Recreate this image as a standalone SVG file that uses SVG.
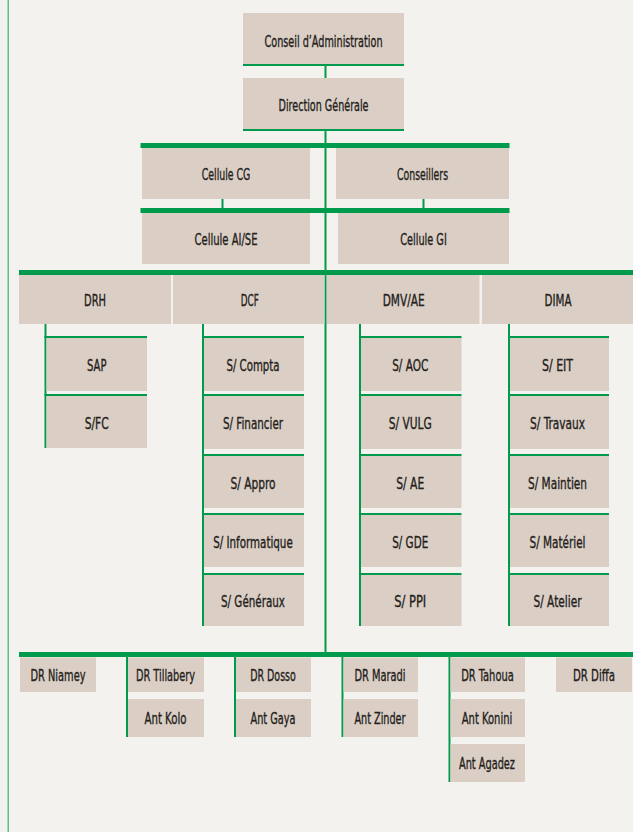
<svg xmlns="http://www.w3.org/2000/svg" width="633" height="832" viewBox="0 0 633 832">
<style>
.b{fill:#dbcfc5}
.g{fill:#009a4c}
.t{font-family:"Liberation Sans Narrow","DejaVu Sans Condensed","Liberation Sans",sans-serif;font-size:16px;fill:#241e1c;stroke:#241e1c;stroke-width:0.35px;text-anchor:middle}
</style>
<rect width="633" height="832" fill="#f3f2ee"/>
<rect x="7.5" y="0" width="1.5" height="832" fill="#5dbd8b"/>
<g id="connectors">
<rect class="g" x="243" y="64" width="161" height="2"/>
<rect class="g" x="324.5" y="66" width="2" height="12"/>
<rect class="g" x="243" y="129" width="161" height="2"/>
<rect class="g" x="324.5" y="131" width="2" height="521"/>
<rect class="g" x="140.5" y="143" width="369" height="5"/>
<rect class="g" x="221.5" y="199" width="2" height="9"/>
<rect class="g" x="422.5" y="199" width="2" height="9"/>
<rect class="g" x="140.5" y="208" width="369" height="5"/>
<rect class="g" x="19" y="270" width="614" height="5"/>
<rect class="g" x="44.5" y="324" width="2" height="124"/>
<rect class="g" x="44.5" y="336" width="102.5" height="2"/>
<rect class="g" x="44.5" y="394" width="102.5" height="2"/>
<rect class="g" x="202" y="324" width="2" height="302"/>
<rect class="g" x="202" y="336" width="102" height="2"/>
<rect class="g" x="202" y="394" width="102" height="2"/>
<rect class="g" x="202" y="454" width="102" height="2"/>
<rect class="g" x="202" y="513" width="102" height="2"/>
<rect class="g" x="202" y="573" width="102" height="2"/>
<rect class="g" x="359" y="324" width="2" height="302"/>
<rect class="g" x="359" y="336" width="102.5" height="2"/>
<rect class="g" x="359" y="394" width="102.5" height="2"/>
<rect class="g" x="359" y="454" width="102.5" height="2"/>
<rect class="g" x="359" y="513" width="102.5" height="2"/>
<rect class="g" x="359" y="573" width="102.5" height="2"/>
<rect class="g" x="508" y="324" width="2" height="302"/>
<rect class="g" x="508" y="336" width="101" height="2"/>
<rect class="g" x="508" y="394" width="101" height="2"/>
<rect class="g" x="508" y="454" width="101" height="2"/>
<rect class="g" x="508" y="513" width="101" height="2"/>
<rect class="g" x="508" y="573" width="101" height="2"/>
<rect class="g" x="19" y="652" width="614" height="5"/>
<rect class="g" x="126" y="657" width="2" height="80"/>
<rect class="g" x="234" y="657" width="2" height="80"/>
<rect class="g" x="341.5" y="657" width="2" height="80"/>
<rect class="g" x="448.5" y="657" width="2" height="125"/>
</g>
<g id="conseil"><rect class="b" x="243" y="13" width="161" height="51"/><text class="t" x="323.5" y="46.5" textLength="118" lengthAdjust="spacingAndGlyphs">Conseil d’Administration</text></g>
<g id="dg"><rect class="b" x="243" y="78" width="161" height="51"/><text class="t" x="323.5" y="111" textLength="90" lengthAdjust="spacingAndGlyphs">Direction Générale</text></g>
<g id="cellule-cg"><rect class="b" x="142" y="148" width="168" height="51"/><text class="t" x="226" y="179.5" textLength="48.5" lengthAdjust="spacingAndGlyphs">Cellule CG</text></g>
<g id="conseillers"><rect class="b" x="336" y="148" width="173" height="51"/><text class="t" x="422.5" y="179.5" textLength="51" lengthAdjust="spacingAndGlyphs">Conseillers</text></g>
<g id="cellule-aise"><rect class="b" x="142" y="213" width="168" height="51"/><text class="t" x="226" y="244.5" textLength="63" lengthAdjust="spacingAndGlyphs">Cellule AI/SE</text></g>
<g id="cellule-gi"><rect class="b" x="338" y="213" width="171" height="51"/><text class="t" x="423.5" y="244.5" textLength="46.5" lengthAdjust="spacingAndGlyphs">Cellule GI</text></g>
<g id="drh"><rect class="b" x="19" y="275" width="152" height="49"/><text class="t" x="95" y="305.5" textLength="22" lengthAdjust="spacingAndGlyphs">DRH</text></g>
<g id="dcf"><rect class="b" x="173" y="275" width="151.5" height="49"/><text class="t" x="249.7" y="305.5" textLength="18" lengthAdjust="spacingAndGlyphs">DCF</text></g>
<g id="dmvae"><rect class="b" x="327" y="275" width="152.5" height="49"/><text class="t" x="403.7" y="305.5" textLength="42" lengthAdjust="spacingAndGlyphs">DMV/AE</text></g>
<g id="dima"><rect class="b" x="482" y="275" width="151" height="49"/><text class="t" x="558" y="305.5" textLength="27" lengthAdjust="spacingAndGlyphs">DIMA</text></g>
<g id="sap"><rect class="b" x="46.5" y="338" width="100.5" height="53"/><text class="t" x="96.7" y="371" textLength="19.5" lengthAdjust="spacingAndGlyphs">SAP</text></g>
<g id="sfc"><rect class="b" x="46.5" y="396" width="100.5" height="52"/><text class="t" x="96.7" y="428.5" textLength="24" lengthAdjust="spacingAndGlyphs">S/FC</text></g>
<g id="s-compta"><rect class="b" x="204" y="338" width="100" height="53"/><text class="t" x="253" y="371" textLength="53" lengthAdjust="spacingAndGlyphs">S/ Compta</text></g>
<g id="s-financier"><rect class="b" x="204" y="396" width="100" height="53"/><text class="t" x="253" y="429" textLength="60" lengthAdjust="spacingAndGlyphs">S/ Financier</text></g>
<g id="s-appro"><rect class="b" x="204" y="456" width="100" height="52"/><text class="t" x="253" y="488.5" textLength="45" lengthAdjust="spacingAndGlyphs">S/ Appro</text></g>
<g id="s-informatique"><rect class="b" x="204" y="515" width="100" height="52"/><text class="t" x="253" y="547.5" textLength="79.5" lengthAdjust="spacingAndGlyphs">S/ Informatique</text></g>
<g id="s-generaux"><rect class="b" x="204" y="575" width="100" height="51"/><text class="t" x="253" y="606.5" textLength="64" lengthAdjust="spacingAndGlyphs">S/ Généraux</text></g>
<g id="s-aoc"><rect class="b" x="361" y="338" width="100.5" height="53"/><text class="t" x="410.2" y="371" textLength="36" lengthAdjust="spacingAndGlyphs">S/ AOC</text></g>
<g id="s-vulg"><rect class="b" x="361" y="396" width="100.5" height="53"/><text class="t" x="410.2" y="429" textLength="43" lengthAdjust="spacingAndGlyphs">S/ VULG</text></g>
<g id="s-ae"><rect class="b" x="361" y="456" width="100.5" height="52"/><text class="t" x="410.2" y="488.5" textLength="28" lengthAdjust="spacingAndGlyphs">S/ AE</text></g>
<g id="s-gde"><rect class="b" x="361" y="515" width="100.5" height="52"/><text class="t" x="410.2" y="547.5" textLength="36" lengthAdjust="spacingAndGlyphs">S/ GDE</text></g>
<g id="s-ppi"><rect class="b" x="361" y="575" width="100.5" height="51"/><text class="t" x="410.2" y="606.5" textLength="32" lengthAdjust="spacingAndGlyphs">S/ PPI</text></g>
<g id="s-eit"><rect class="b" x="510" y="338" width="99" height="53"/><text class="t" x="557.5" y="371" textLength="31" lengthAdjust="spacingAndGlyphs">S/ EIT</text></g>
<g id="s-travaux"><rect class="b" x="510" y="396" width="99" height="53"/><text class="t" x="557.5" y="429" textLength="55" lengthAdjust="spacingAndGlyphs">S/ Travaux</text></g>
<g id="s-maintien"><rect class="b" x="510" y="456" width="99" height="52"/><text class="t" x="557.5" y="488.5" textLength="59" lengthAdjust="spacingAndGlyphs">S/ Maintien</text></g>
<g id="s-materiel"><rect class="b" x="510" y="515" width="99" height="52"/><text class="t" x="557.5" y="547.5" textLength="56" lengthAdjust="spacingAndGlyphs">S/ Matériel</text></g>
<g id="s-atelier"><rect class="b" x="510" y="575" width="99" height="51"/><text class="t" x="557.5" y="606.5" textLength="48" lengthAdjust="spacingAndGlyphs">S/ Atelier</text></g>
<g id="dr-niamey"><rect class="b" x="20" y="657.5" width="76" height="34.5"/><text class="t" x="58" y="681" textLength="55" lengthAdjust="spacingAndGlyphs">DR Niamey</text></g>
<g id="dr-tillabery"><rect class="b" x="128" y="657.5" width="76" height="34.5"/><text class="t" x="165.5" y="681" textLength="59" lengthAdjust="spacingAndGlyphs">DR Tillabery</text></g>
<g id="ant-kolo"><rect class="b" x="128" y="699" width="76" height="38"/><text class="t" x="165.5" y="724" textLength="42" lengthAdjust="spacingAndGlyphs">Ant Kolo</text></g>
<g id="dr-dosso"><rect class="b" x="236" y="657.5" width="75" height="34.5"/><text class="t" x="273" y="681" textLength="45.5" lengthAdjust="spacingAndGlyphs">DR Dosso</text></g>
<g id="ant-gaya"><rect class="b" x="236" y="699" width="75" height="38"/><text class="t" x="273" y="724" textLength="45" lengthAdjust="spacingAndGlyphs">Ant Gaya</text></g>
<g id="dr-maradi"><rect class="b" x="343.5" y="657.5" width="74.5" height="34.5"/><text class="t" x="380" y="681" textLength="51" lengthAdjust="spacingAndGlyphs">DR Maradi</text></g>
<g id="ant-zinder"><rect class="b" x="343.5" y="699" width="74.5" height="38"/><text class="t" x="380" y="724" textLength="51" lengthAdjust="spacingAndGlyphs">Ant Zinder</text></g>
<g id="dr-tahoua"><rect class="b" x="450.5" y="657.5" width="74.5" height="34.5"/><text class="t" x="487.5" y="681" textLength="52.5" lengthAdjust="spacingAndGlyphs">DR Tahoua</text></g>
<g id="ant-konini"><rect class="b" x="450.5" y="699" width="74.5" height="38"/><text class="t" x="487" y="724" textLength="50.5" lengthAdjust="spacingAndGlyphs">Ant Konini</text></g>
<g id="ant-agadez"><rect class="b" x="450.5" y="744" width="74.5" height="38"/><text class="t" x="487" y="769" textLength="56" lengthAdjust="spacingAndGlyphs">Ant Agadez</text></g>
<g id="dr-diffa"><rect class="b" x="556" y="657.5" width="76" height="34.5"/><text class="t" x="594" y="681" textLength="42" lengthAdjust="spacingAndGlyphs">DR Diffa</text></g>
</svg>
